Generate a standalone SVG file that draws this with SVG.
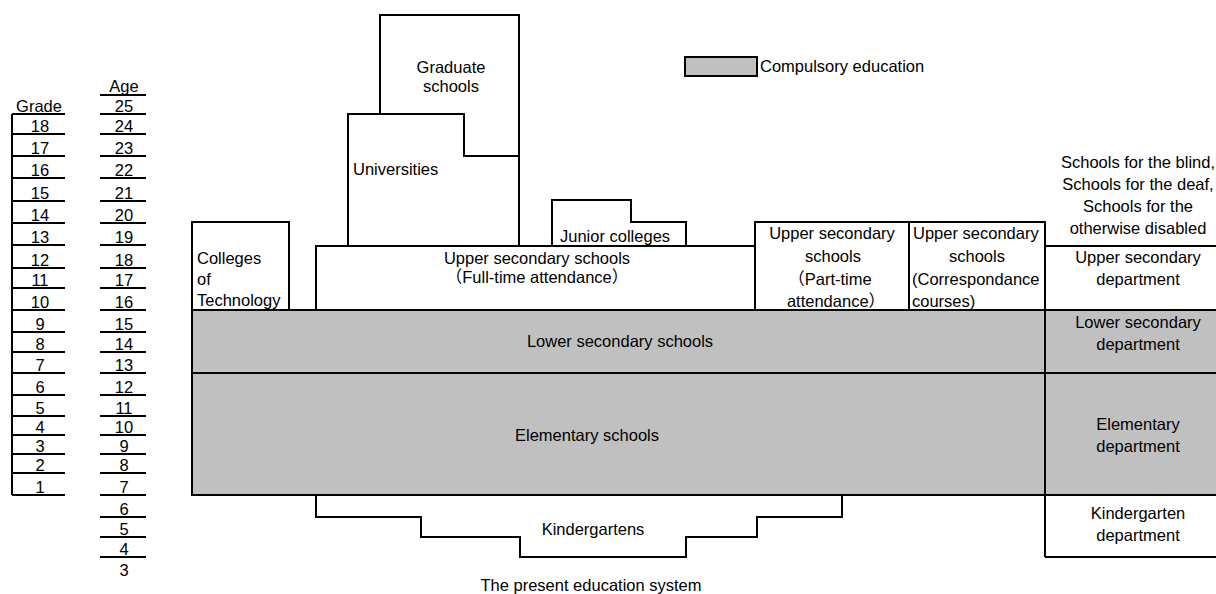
<svg xmlns="http://www.w3.org/2000/svg" width="1216" height="594" viewBox="0 0 1216 594">
<style>
.ln{stroke:#000;stroke-width:2;fill:none}
.bx{stroke:#000;stroke-width:2;fill:#fff}
.gy{fill:#c0c0c0;stroke:none}
.t{font-family:"Liberation Sans","Noto Sans CJK JP",Arial,sans-serif;font-size:16.5px;fill:#000}
.m{text-anchor:middle}
</style>
<rect width="1216" height="594" fill="#fff"/>

<g id="grade-scale">
<text class="t m" x="39" y="112">Grade</text>
<path class="ln" d="M12,114V495"/>
<path class="ln" d="M12,114H65M12,134H65M12,156H65M12,178H65M12,201H65M12,223H65M12,245H65M12,268H65M12,288H65M12,310H65M12,332H65M12,352H65M12,373H65M12,395H65M12,416H65M12,435H65M12,454H65M12,473H65M12,495H65"/>
<g class="t m">
<text x="40" y="132">18</text><text x="40" y="154">17</text><text x="40" y="176">16</text><text x="40" y="199">15</text>
<text x="40" y="221">14</text><text x="40" y="243">13</text><text x="40" y="266">12</text><text x="40" y="286">11</text>
<text x="40" y="308">10</text><text x="40" y="330">9</text><text x="40" y="350">8</text><text x="40" y="371">7</text>
<text x="40" y="393">6</text><text x="40" y="414">5</text><text x="40" y="433">4</text><text x="40" y="452">3</text>
<text x="40" y="471">2</text><text x="40" y="493">1</text>
</g>
</g>

<g id="age-scale">
<text class="t m" x="124" y="92">Age</text>
<path class="ln" d="M100,95H146M100,114H146M100,134H146M100,156H146M100,178H146M100,201H146M100,223H146M100,245H146M100,268H146M100,288H146M100,310H146M100,332H146M100,352H146M100,373H146M100,395H146M100,416H146M100,435H146M100,454H146M100,473H146M100,495H146M100,517H146M100,537H146M100,557H146"/>
<g class="t m">
<text x="124" y="112">25</text><text x="124" y="132">24</text><text x="124" y="154">23</text><text x="124" y="176">22</text>
<text x="124" y="199">21</text><text x="124" y="221">20</text><text x="124" y="243">19</text><text x="124" y="266">18</text>
<text x="124" y="286">17</text><text x="124" y="308">16</text><text x="124" y="330">15</text><text x="124" y="350">14</text>
<text x="124" y="371">13</text><text x="124" y="393">12</text><text x="124" y="414">11</text><text x="124" y="433">10</text>
<text x="124" y="452">9</text><text x="124" y="471">8</text><text x="124" y="493">7</text><text x="124" y="515">6</text>
<text x="124" y="535">5</text><text x="124" y="555">4</text><text x="124" y="576">3</text>
</g>
</g>

<g id="legend">
<rect x="685" y="57" width="72" height="19" fill="#c0c0c0" stroke="#000" stroke-width="2"/>
<text class="t" x="760" y="72">Compulsory education</text>
</g>

<g id="compulsory-band">
<rect class="gy" x="192" y="310" width="1024" height="185"/>
</g>

<g id="lower-secondary-schools">
<path class="ln" d="M192,310H1216M192,373H1216"/>
<text class="t m" x="620" y="347">Lower secondary schools</text>
</g>

<g id="elementary-schools">
<path class="ln" d="M192,310V495H1216"/>
<text class="t" x="515" y="441">Elementary schools</text>
</g>

<g id="graduate-schools">
<path class="bx" d="M380,114V15H519V156H464V114Z"/>
<text class="t m" x="451" y="73">Graduate</text>
<text class="t m" x="451" y="92">schools</text>
</g>

<g id="universities">
<path class="bx" d="M348,246V114H464V156H519V246Z"/>
<text class="t" x="353" y="175">Universities</text>
</g>

<g id="junior-colleges">
<path class="bx" d="M552,246V200H631V222H686V246Z"/>
<text class="t" x="560" y="242">Junior colleges</text>
</g>

<g id="colleges-of-technology">
<rect class="bx" x="192" y="222" width="97" height="88"/>
<text class="t" x="197" y="264">Colleges</text>
<text class="t" x="197" y="285">of</text>
<text class="t" x="197" y="306">Technology</text>
</g>

<g id="upper-secondary-full-time">
<rect class="bx" x="316" y="246" width="439" height="64"/>
<text class="t m" x="537" y="264">Upper secondary schools</text>
<text class="t m" x="537" y="283">（Full-time attendance）</text>
</g>

<g id="upper-secondary-part-time">
<rect class="bx" x="755" y="222" width="154" height="88"/>
<text class="t m" x="832" y="239">Upper secondary</text>
<text class="t m" x="833" y="262">schools</text>
<text class="t m" x="830" y="285">（Part-time</text>
<text class="t m" x="836" y="307">attendance）</text>
</g>

<g id="upper-secondary-correspondence">
<rect class="bx" x="909" y="222" width="136" height="88"/>
<text class="t" x="913" y="239">Upper secondary</text>
<text class="t m" x="977" y="262">schools</text>
<text class="t" x="912" y="285">(Correspondance</text>
<text class="t" x="912" y="307">courses)</text>
</g>

<g id="special-schools">
<path class="ln" d="M1045,222V557M1045,246H1216M1045,310H1216M1045,373H1216M1045,495H1216M1045,557H1216"/>
<g class="t m">
<text x="1138" y="168">Schools for the blind,</text>
<text x="1138" y="190">Schools for the deaf,</text>
<text x="1138" y="212">Schools for the</text>
<text x="1138" y="234">otherwise disabled</text>
<text x="1138" y="263">Upper secondary</text>
<text x="1138" y="285">department</text>
<text x="1138" y="328">Lower secondary</text>
<text x="1138" y="350">department</text>
<text x="1138" y="430">Elementary</text>
<text x="1138" y="452">department</text>
<text x="1138" y="519">Kindergarten</text>
<text x="1138" y="541">department</text>
</g>
</g>

<g id="kindergartens">
<path class="ln" d="M316,495V517H421V537H520V557H686V537H757V517H842V495"/>
<text class="t m" x="593" y="535">Kindergartens</text>
</g>

<g id="connectors"></g>

<text class="t m" x="591" y="591">The present education system</text>
</svg>
